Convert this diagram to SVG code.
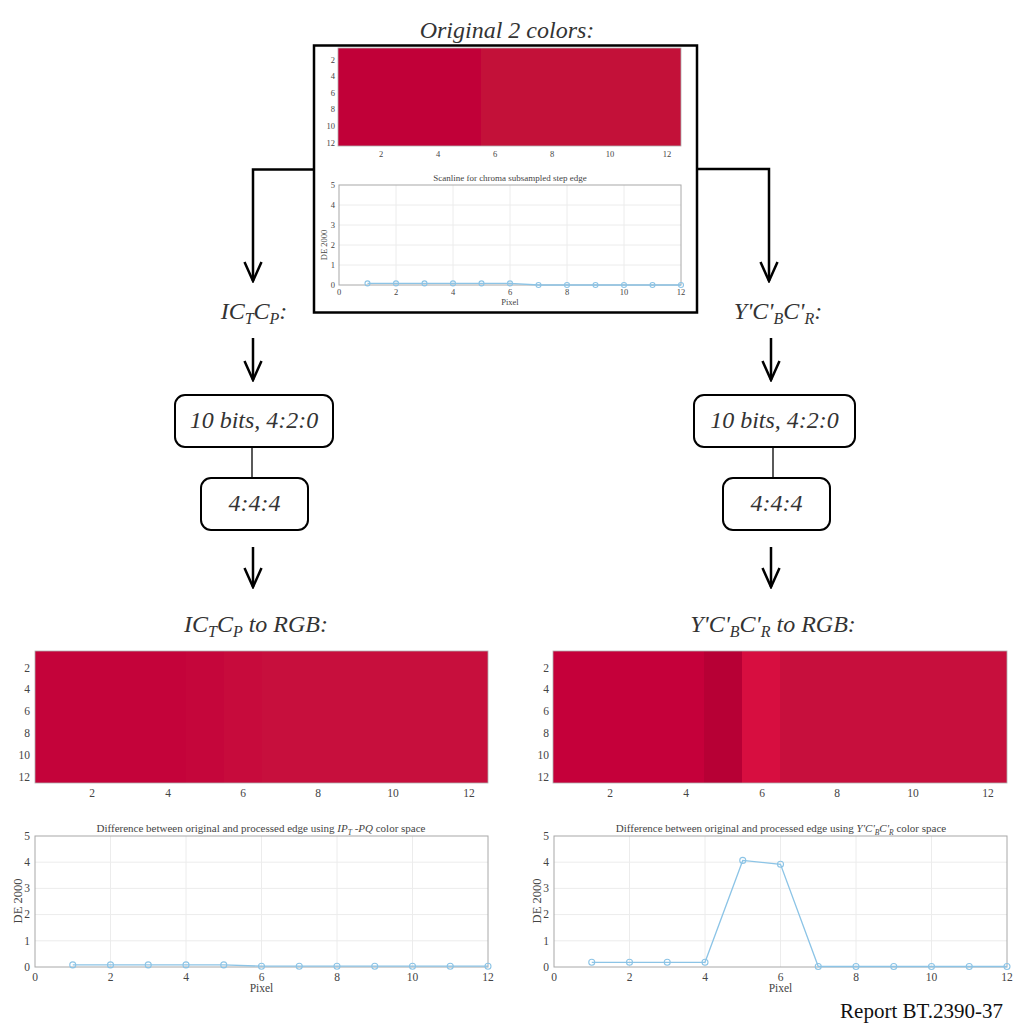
<svg xmlns="http://www.w3.org/2000/svg" width="1016" height="1024" viewBox="0 0 1016 1024">
<defs>
<style>
.lbl{font-family:"Liberation Serif",serif;font-style:italic;fill:#333;}
.big{font-size:24px;}
.tk{font-family:"Liberation Serif",serif;fill:#444;}
.tk8{font-size:8.5px;}
.tk11{font-size:11.5px;}
.grid{stroke:#ececec;stroke-width:1;fill:none;}
.axbox{stroke:#a8a8a8;stroke-width:1;fill:none;}
.data{stroke:#8cc4e6;stroke-width:1.3;fill:none;}
.pt{stroke:#8cc4e6;stroke-width:1.1;fill:none;}
.conn{stroke:#000;stroke-width:2.5;fill:none;}
.link{stroke:#000;stroke-width:1.3;fill:none;}
.node{stroke:#000;stroke-width:2;fill:#fff;}
</style>
<marker id="arr" viewBox="0 0 24 20" refX="22" refY="10" markerWidth="24" markerHeight="20" markerUnits="userSpaceOnUse" orient="auto">
<path d="M3,1.5 L22,10 L3,18.5" fill="none" stroke="#000" stroke-width="2.5"/>
</marker>
</defs>
<rect width="1016" height="1024" fill="#fff"/>

<!-- Top node: original colours -->
<g id="original">
<text class="lbl big" x="507" y="38" text-anchor="middle">Original 2 colors:</text>
<rect x="314" y="45.5" width="383" height="267" fill="#fff" stroke="#000" stroke-width="2.5"/>
<rect x="338" y="48" width="143" height="98" fill="#c10038"/>
<rect x="481" y="48" width="200" height="98" fill="#c31139"/>
<rect x="338" y="48" width="343" height="98" fill="none" stroke="#b0b0b0" stroke-width="0.8"/>
<g class="tk tk8" text-anchor="end">
<text x="335" y="63">2</text><text x="335" y="79">4</text><text x="335" y="96">6</text>
<text x="335" y="112">8</text><text x="335" y="129">10</text><text x="335" y="146">12</text>
</g>
<g class="tk tk8" text-anchor="middle">
<text x="381" y="157">2</text><text x="438" y="157">4</text><text x="495" y="157">6</text>
<text x="552" y="157">8</text><text x="610" y="157">10</text><text x="667" y="157">12</text>
</g>
<!-- scanline plot -->
<text class="tk" x="510" y="181" font-size="9" text-anchor="middle">Scanline for chroma subsampled step edge</text>
<g class="grid">
<path d="M396,185V285M453,185V285M510,185V285M567,185V285M624,185V285"/>
<path d="M339,205H681M339,225H681M339,245H681M339,265H681"/>
</g>
<rect class="axbox" x="339" y="185" width="342" height="100"/>
<g class="tk tk8" text-anchor="end">
<text x="335" y="288">0</text><text x="335" y="268">1</text><text x="335" y="248">2</text>
<text x="335" y="228">3</text><text x="335" y="208">4</text><text x="335" y="188">5</text>
</g>
<g class="tk tk8" text-anchor="middle">
<text x="339" y="295">0</text><text x="396" y="295">2</text><text x="453" y="295">4</text>
<text x="510" y="295">6</text><text x="567" y="295">8</text><text x="624" y="295">10</text><text x="681" y="295">12</text>
<text x="510" y="305">Pixel</text>
<text transform="translate(327,245) rotate(-90)">DE 2000</text>
</g>
<polyline class="data" points="367.5,283.4 396,283.4 424.5,283.4 453,283.4 481.5,283.4 510,283.4 538.5,285 567,285 595.5,285 624,285 652.5,285 681,285"/>
<g class="pt">
<circle cx="367.5" cy="283.4" r="2.5"/><circle cx="396" cy="283.4" r="2.5"/><circle cx="424.5" cy="283.4" r="2.5"/>
<circle cx="453" cy="283.4" r="2.5"/><circle cx="481.5" cy="283.4" r="2.5"/><circle cx="510" cy="283.4" r="2.5"/>
<circle cx="538.5" cy="285" r="2.5"/><circle cx="567" cy="285" r="2.5"/><circle cx="595.5" cy="285" r="2.5"/>
<circle cx="624" cy="285" r="2.5"/><circle cx="652.5" cy="285" r="2.5"/><circle cx="681" cy="285" r="2.5"/>
</g>
</g>

<!-- Left branch labels -->
<g id="ictcp-label">
<text class="lbl big" x="254" y="319" text-anchor="middle">IC<tspan font-size="16" dy="5">T</tspan><tspan dy="-5">C</tspan><tspan font-size="16" dy="5">P</tspan><tspan dy="-5">:</tspan></text>
</g>
<g id="left-420">
<rect class="node" x="175" y="395" width="158" height="52" rx="10"/>
<text class="lbl big" x="254" y="428" text-anchor="middle">10 bits, 4:2:0</text>
</g>
<g id="left-444">
<rect class="node" x="201" y="478" width="107" height="52" rx="10"/>
<text class="lbl big" x="254.5" y="511" text-anchor="middle">4:4:4</text>
</g>
<g id="ictcp-rgb-label">
<text class="lbl big" x="256" y="632" text-anchor="middle">IC<tspan font-size="16" dy="5">T</tspan><tspan dy="-5">C</tspan><tspan font-size="16" dy="5">P</tspan><tspan dy="-5"> to RGB:</tspan></text>
</g>

<!-- Right branch labels -->
<g id="ycbcr-label">
<text class="lbl big" x="778" y="319" text-anchor="middle">Y'C'<tspan font-size="16" dy="5">B</tspan><tspan dy="-5">C'</tspan><tspan font-size="16" dy="5">R</tspan><tspan dy="-5">:</tspan></text>
</g>
<g id="right-420">
<rect class="node" x="694" y="395" width="161" height="52" rx="10"/>
<text class="lbl big" x="774.5" y="428" text-anchor="middle">10 bits, 4:2:0</text>
</g>
<g id="right-444">
<rect class="node" x="723" y="478" width="107" height="52" rx="10"/>
<text class="lbl big" x="776.5" y="511" text-anchor="middle">4:4:4</text>
</g>
<g id="ycbcr-rgb-label">
<text class="lbl big" x="773" y="632" text-anchor="middle">Y'C'<tspan font-size="16" dy="5">B</tspan><tspan dy="-5">C'</tspan><tspan font-size="16" dy="5">R</tspan><tspan dy="-5"> to RGB:</tspan></text>
</g>

<!-- Connectors -->
<g id="connectors">
<path class="conn" d="M314,169.5H253V281" marker-end="url(#arr)"/>
<path class="conn" d="M697,169H769V281" marker-end="url(#arr)"/>
<path class="conn" d="M253,338V380" marker-end="url(#arr)"/>
<path class="conn" d="M771,338V380" marker-end="url(#arr)"/>
<path class="link" d="M252,447V478"/>
<path class="link" d="M773,447V478"/>
<path class="conn" d="M253,547V587" marker-end="url(#arr)"/>
<path class="conn" d="M771,547V587" marker-end="url(#arr)"/>
</g>

<!-- Bottom-left result image -->
<g id="ictcp-result">
<rect x="35" y="651" width="151" height="132" fill="#c4033a"/>
<rect x="186" y="651" width="38" height="132" fill="#c5063b"/>
<rect x="224" y="651" width="38" height="132" fill="#c70b3c"/>
<rect x="262" y="651" width="226" height="132" fill="#c70f3d"/>
<rect x="35" y="651" width="453" height="132" fill="none" stroke="#b0b0b0" stroke-width="0.8"/>
<g class="tk tk11" text-anchor="end">
<text x="30" y="672">2</text><text x="30" y="693">4</text><text x="30" y="715">6</text>
<text x="30" y="737">8</text><text x="30" y="759">10</text><text x="30" y="781">12</text>
</g>
<g class="tk tk11" text-anchor="middle">
<text x="92" y="797">2</text><text x="168" y="797">4</text><text x="243" y="797">6</text>
<text x="318" y="797">8</text><text x="393" y="797">10</text><text x="469" y="797">12</text>
</g>
<!-- plot -->
<text class="tk" x="261" y="832" font-size="11" text-anchor="middle">Difference between original and processed edge using <tspan font-style="italic">IP</tspan><tspan font-style="italic" font-size="7.5" dy="3">T</tspan><tspan font-style="italic" dy="-3"> -PQ</tspan> color space</text>
<g class="grid">
<path d="M110.5,836V967M186,836V967M261.5,836V967M337,836V967M412.5,836V967"/>
<path d="M35,862.2H488M35,888.4H488M35,914.6H488M35,940.8H488"/>
</g>
<rect class="axbox" x="35" y="836" width="453" height="131"/>
<g class="tk tk11" text-anchor="end">
<text x="30" y="971">0</text><text x="30" y="945">1</text><text x="30" y="918">2</text>
<text x="30" y="892">3</text><text x="30" y="866">4</text><text x="30" y="840">5</text>
</g>
<g class="tk tk11" text-anchor="middle">
<text x="35" y="981">0</text><text x="110.5" y="981">2</text><text x="186" y="981">4</text>
<text x="261.5" y="981">6</text><text x="337" y="981">8</text><text x="412.5" y="981">10</text><text x="488" y="981">12</text>
<text x="261.5" y="992">Pixel</text>
<text transform="translate(22,901) rotate(-90)" font-size="12.5">DE 2000</text>
</g>
<polyline class="data" points="72.75,964.9 110.5,964.9 148.25,964.9 186,964.9 223.75,964.9 261.5,966.2 299.25,966.2 337,966.2 374.75,966.2 412.5,966.2 450.25,966.2 488,966.2"/>
<g class="pt">
<circle cx="72.75" cy="964.9" r="3"/><circle cx="110.5" cy="964.9" r="3"/><circle cx="148.25" cy="964.9" r="3"/>
<circle cx="186" cy="964.9" r="3"/><circle cx="223.75" cy="964.9" r="3"/><circle cx="261.5" cy="966.2" r="3"/>
<circle cx="299.25" cy="966.2" r="3"/><circle cx="337" cy="966.2" r="3"/><circle cx="374.75" cy="966.2" r="3"/>
<circle cx="412.5" cy="966.2" r="3"/><circle cx="450.25" cy="966.2" r="3"/><circle cx="488" cy="966.2" r="3"/>
</g>
</g>

<!-- Bottom-right result image -->
<g id="ycbcr-result">
<rect x="553" y="651" width="151" height="132" fill="#c5003a"/>
<rect x="704" y="651" width="38" height="132" fill="#b70035"/>
<rect x="742" y="651" width="38" height="132" fill="#d70e40"/>
<rect x="780" y="651" width="227" height="132" fill="#c70f3d"/>
<rect x="553" y="651" width="454" height="132" fill="none" stroke="#b0b0b0" stroke-width="0.8"/>
<g class="tk tk11" text-anchor="end">
<text x="549" y="672">2</text><text x="549" y="693">4</text><text x="549" y="715">6</text>
<text x="549" y="737">8</text><text x="549" y="759">10</text><text x="549" y="781">12</text>
</g>
<g class="tk tk11" text-anchor="middle">
<text x="610" y="797">2</text><text x="686" y="797">4</text><text x="762" y="797">6</text>
<text x="837" y="797">8</text><text x="913" y="797">10</text><text x="988" y="797">12</text>
</g>
<text class="tk" x="781" y="832" font-size="11" text-anchor="middle">Difference between original and processed edge using <tspan font-style="italic">Y'C'</tspan><tspan font-style="italic" font-size="7.5" dy="3">B</tspan><tspan font-style="italic" dy="-3">C'</tspan><tspan font-style="italic" font-size="7.5" dy="3">R</tspan><tspan dy="-3"> color space</tspan></text>
<g class="grid">
<path d="M629.5,836V967M705,836V967M780.5,836V967M856,836V967M931.5,836V967"/>
<path d="M554,862.2H1007M554,888.4H1007M554,914.6H1007M554,940.8H1007"/>
</g>
<rect class="axbox" x="554" y="836" width="453" height="131"/>
<g class="tk tk11" text-anchor="end">
<text x="549" y="971">0</text><text x="549" y="945">1</text><text x="549" y="918">2</text>
<text x="549" y="892">3</text><text x="549" y="866">4</text><text x="549" y="840">5</text>
</g>
<g class="tk tk11" text-anchor="middle">
<text x="554" y="981">0</text><text x="629.5" y="981">2</text><text x="705" y="981">4</text>
<text x="780.5" y="981">6</text><text x="856" y="981">8</text><text x="931.5" y="981">10</text><text x="1007" y="981">12</text>
<text x="780.5" y="992">Pixel</text>
<text transform="translate(541,901) rotate(-90)" font-size="12.5">DE 2000</text>
</g>
<polyline class="data" points="591.75,962.3 629.5,962.3 667.25,962.3 705,962.3 742.75,860.4 780.5,864.3 818.25,966.5 856,966.5 893.75,966.5 931.5,966.5 969.25,966.5 1007,966.5"/>
<g class="pt">
<circle cx="591.75" cy="962.3" r="3"/><circle cx="629.5" cy="962.3" r="3"/><circle cx="667.25" cy="962.3" r="3"/>
<circle cx="705" cy="962.3" r="3"/><circle cx="742.75" cy="860.4" r="3"/><circle cx="780.5" cy="864.3" r="3"/>
<circle cx="818.25" cy="966.5" r="3"/><circle cx="856" cy="966.5" r="3"/><circle cx="893.75" cy="966.5" r="3"/>
<circle cx="931.5" cy="966.5" r="3"/><circle cx="969.25" cy="966.5" r="3"/><circle cx="1007" cy="966.5" r="3"/>
</g>
</g>

<text x="1003" y="1018" font-family="'Liberation Serif',serif" font-size="21" fill="#111" text-anchor="end">Report BT.2390-37</text>
</svg>
